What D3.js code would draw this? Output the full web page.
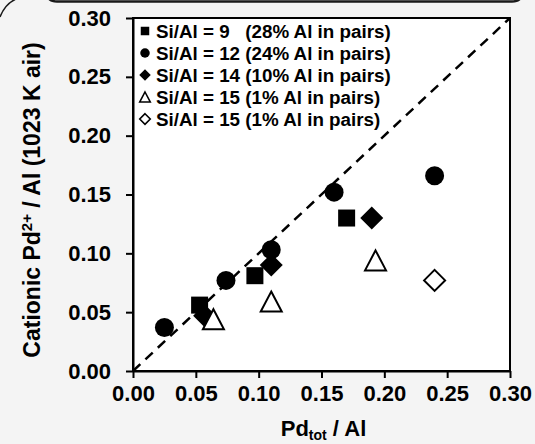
<!DOCTYPE html>
<html>
<head>
<meta charset="utf-8">
<script src="https://cdn.jsdelivr.net/npm/d3@7"></script>
<style>
  html, body { margin: 0; padding: 0; background: #f4f4f4; }
  svg { display: block; font-family: "Liberation Sans", Arial, sans-serif; font-weight: bold; }
</style>
</head>
<body>
<div id="chart"></div>
<script>
var width = 535,
    height = 444;

// legend labels, one per series
var seriesNames = [
  "Si/Al = 9   (28% Al in pairs)",
  "Si/Al = 12 (24% Al in pairs)",
  "Si/Al = 14 (10% Al in pairs)",
  "Si/Al = 15 (1% Al in pairs)",
  "Si/Al = 15 (1% Al in pairs)"
];
var seriesShapes = ["square", "circle", "diamond", "triangle", "diamondOpen"];

// Pd_tot / Al  vs  cationic Pd2+ / Al
var si9X   = [0.053, 0.097, 0.170];
var si9Y   = [0.056, 0.081, 0.130];
var si12X  = [0.025, 0.074, 0.110, 0.160, 0.240];
var si12Y  = [0.037, 0.077, 0.103, 0.152, 0.166];
var si14X  = [0.057, 0.110, 0.190];
var si14Y  = [0.047, 0.090, 0.130];
var si15aX = [0.064, 0.110, 0.193];
var si15aY = [0.044, 0.059, 0.094];
var si15bX = [0.240];
var si15bY = [0.077];

var parityLine = [0, 0.30];
var tickValues = [0, 0.05, 0.10, 0.15, 0.20, 0.25, 0.30];

var seriesX = [si9X, si12X, si14X, si15aX, si15bX];
var seriesY = [si9Y, si12Y, si14Y, si15aY, si15bY];

var margin = {left: 133, right: 25, top: 18, bottom: 73};

var svg = d3.select("#chart")
    .append("svg")
    .attr("width", width)
    .attr("height", height);

svg.append("rect")
    .attr("width", width)
    .attr("height", height)
    .attr("fill", "#f4f4f4");

// bits of the surrounding figure frame
svg.append("path")
    .attr("d", "M47,-8 Q47,1.5 57,1.5 L512,1.5 Q522,1.5 522,-8")
    .attr("fill", "none")
    .attr("stroke", "#1a1a1a")
    .attr("stroke-width", 2.5);
svg.append("path")
    .attr("d", "M0,17 Q5,4 16,-1")
    .attr("fill", "none")
    .attr("stroke", "#1a1a1a")
    .attr("stroke-width", 1.5);

var x = d3.scaleLinear()
    .domain([0, 0.30])
    .range([margin.left, width - margin.right]);

var y = d3.scaleLinear()
    .domain([0, 0.30])
    .range([height - margin.bottom, margin.top]);

svg.append("rect")
    .attr("x", x(0))
    .attr("y", y(0.30))
    .attr("width", x(0.30) - x(0))
    .attr("height", y(0) - y(0.30))
    .attr("fill", "white")
    .attr("stroke", "black")
    .attr("stroke-width", 2);

var xAxis = svg.append("g")
    .attr("transform", "translate(0," + y(0) + ")")
    .call(d3.axisBottom(x).tickValues(tickValues).tickFormat(d3.format(".2f")).tickSize(7).tickSizeOuter(0));

var yAxis = svg.append("g")
    .attr("transform", "translate(" + x(0) + ",0)")
    .call(d3.axisLeft(y).tickValues(tickValues).tickFormat(d3.format(".2f")).tickSize(7).tickSizeOuter(0));

[xAxis, yAxis].forEach(function(g) {
    g.select(".domain").attr("stroke", "black").attr("stroke-width", 2);
    g.selectAll(".tick line").attr("stroke", "black").attr("stroke-width", 2);
    g.selectAll(".tick text")
        .attr("fill", "black")
        .style("font-size", "22px")
        .style("font-family", "'Liberation Sans', Arial, sans-serif")
        .style("font-weight", "bold");
});
xAxis.selectAll(".tick text").attr("y", 14);
yAxis.selectAll(".tick text").attr("x", -22);

// 1:1 line
svg.append("line")
    .attr("x1", x(parityLine[0]))
    .attr("y1", y(parityLine[0]))
    .attr("x2", x(parityLine[1]))
    .attr("y2", y(parityLine[1]))
    .attr("stroke", "black")
    .attr("stroke-width", 2.5)
    .attr("stroke-dasharray", "10,7");

function marker(shape, s) {
    // s = scale factor, 1 for the plot, smaller in the legend
    if (shape == "square") {
        var h = 8.5 * s;
        return "M" + (-h) + "," + (-h) + "H" + h + "V" + h + "H" + (-h) + "Z";
    }
    if (shape == "circle") {
        var r = 9.5 * s;
        return "M" + r + ",0A" + r + "," + r + " 0 1,1 " + (-r) + ",0A" + r + "," + r + " 0 1,1 " + r + ",0Z";
    }
    if (shape == "diamond" || shape == "diamondOpen") {
        var d = (shape == "diamond" ? 11.5 : 10.5) * s;
        return "M0," + (-d) + "L" + d + ",0L0," + d + "L" + (-d) + ",0Z";
    }
    if (shape == "triangle") {
        var w = 10.5 * s, t = 10 * s;
        return "M0," + (-t) + "L" + w + "," + t + "L" + (-w) + "," + t + "Z";
    }
}

function isOpen(shape) {
    return shape == "triangle" || shape == "diamondOpen";
}

seriesX.forEach(function(xs, i) {
    var pts = xs.map(function(v, j) { return [v, seriesY[i][j]]; });
    svg.selectAll(".s" + i)
        .data(pts)
        .enter().append("path")
        .attr("class", "s" + i)
        .attr("d", marker(seriesShapes[i], 1))
        .attr("transform", function(d) { return "translate(" + x(d[0]) + "," + y(d[1]) + ")"; })
        .attr("fill", isOpen(seriesShapes[i]) ? "white" : "black")
        .attr("stroke", "black")
        .attr("stroke-width", isOpen(seriesShapes[i]) ? 2 : 0);
});

// legend
var legend = svg.append("g")
    .attr("transform", "translate(145,31)");

var rows = legend.selectAll(".row")
    .data(seriesNames)
    .enter().append("g")
    .attr("transform", function(d, i) { return "translate(0," + (i * 22) + ")"; });

rows.append("path")
    .attr("d", function(d, i) { return marker(seriesShapes[i], 0.5); })
    .attr("fill", function(d, i) { return isOpen(seriesShapes[i]) ? "white" : "black"; })
    .attr("stroke", "black")
    .attr("stroke-width", function(d, i) { return isOpen(seriesShapes[i]) ? 1.6 : 0; });

rows.append("text")
    .attr("x", 11)
    .attr("y", 7)
    .attr("xml:space", "preserve")
    .style("white-space", "pre")
    .style("font-size", "18.8px")
    .text(function(d) { return d; });

// axis titles
var yTitle = svg.append("text")
    .attr("transform", "translate(40,200) rotate(-90)")
    .attr("text-anchor", "middle")
    .style("font-size", "23px");
yTitle.append("tspan").text("Cationic Pd");
yTitle.append("tspan").attr("dy", -8).style("font-size", "15px").text("2+");
yTitle.append("tspan").attr("dy", 8).text(" / Al (1023 K air)");

var xTitle = svg.append("text")
    .attr("x", (x(0) + x(0.30)) / 2 + 2)
    .attr("y", 436)
    .attr("text-anchor", "middle")
    .style("font-size", "22px");
xTitle.append("tspan").text("Pd");
xTitle.append("tspan").attr("dy", 4).style("font-size", "14px").text("tot");
xTitle.append("tspan").attr("dy", -4).text(" / Al");
</script>
</body>
</html>
